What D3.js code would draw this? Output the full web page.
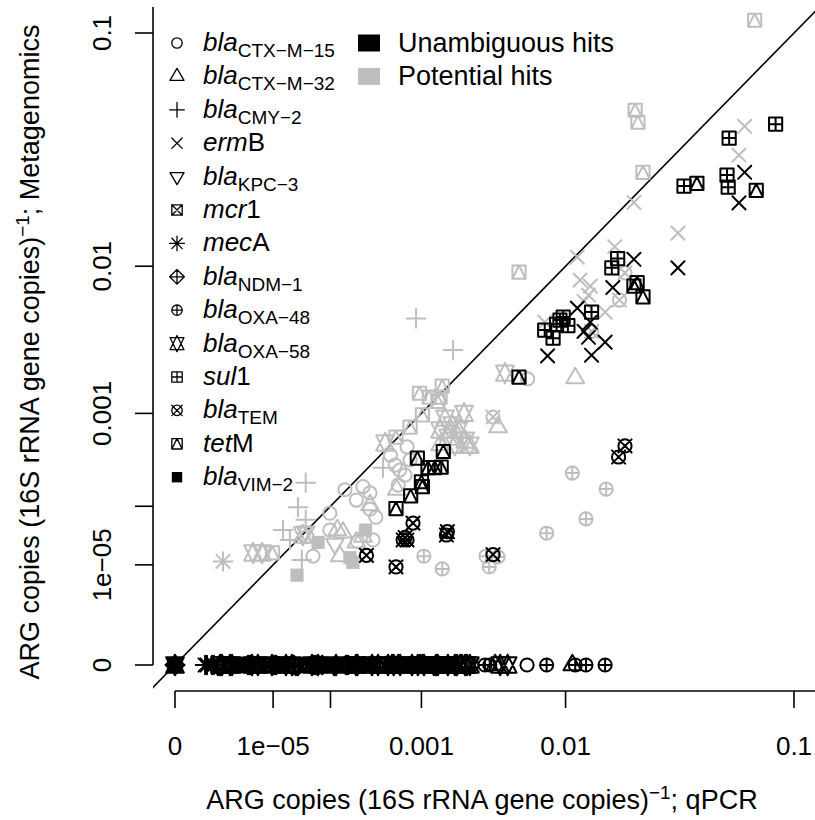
<!DOCTYPE html>
<html><head><meta charset="utf-8">
<script src="https://cdn.jsdelivr.net/npm/d3@7"></script>
<style>body{margin:0;background:#fff} svg{display:block} text{font-family:"Liberation Sans",Arial,Helvetica,sans-serif;fill:#000}</style>
</head><body>
<svg id="c" width="815" height="820"></svg>
<script>
// ---------------- DATA ----------------
const geneNames = ["blaCTX-M-15","blaCTX-M-32","blaCMY-2","ermB","blaKPC-3","mcr1","mecA","blaNDM-1","blaOXA-48","blaOXA-58","sul1","blaTEM","tetM","blaVIM-2"];
const genePch   = [1,2,3,4,6,7,8,9,10,11,12,13,14,15];
const legendItalic = ["bla","bla","bla","erm","bla","mcr","mec","bla","bla","bla","sul","bla","tet","bla"];
const legendRest   = ["CTX\u2212M\u221215","CTX\u2212M\u221232","CMY\u22122","B","KPC\u22123","1","A","NDM\u22121","OXA\u221248","OXA\u221258","1","TEM","M","VIM\u22122"];
const legendRestIsSub = [true,true,true,false,true,false,false,true,true,true,false,true,false,true];
const hitLabels = ["Unambiguous hits","Potential hits"];
const hitColors = ["#000000","#BEBEBE"];

const xTicks = [0,1e-5,1e-4,1e-3,1e-2,1e-1];
const xTickLabels = ["0","1e\u221205","","0.001","0.01","0.1"];
const yTicks = [0,1e-5,1e-4,1e-3,1e-2,1e-1];
const yTickLabels = ["0","1e\u221205","","0.001","0.01","0.1"];

// [qPCR, metagenomics] pairs
const ermB_unambiguous = [[6.6e-2,2.88e-2],[6.28e-2,2.09e-2],[3.54e-2,9.8e-3],[2.24e-2,1.09e-2],[1.77e-2,7.6e-3],[1.16e-2,5.74e-3],[1.36e-2,4.7e-3],[1.26e-2,4.1e-3],[1.33e-2,3.75e-3],[1.62e-2,3.48e-3],[1.38e-2,2.83e-3],[7.9e-3,2.8e-3]];
const sul1_unambiguous = [[8.6e-2,4.59e-2],[5.75e-2,4.03e-2],[5.64e-2,2.8e-2],[5.7e-2,2.47e-2],[3.76e-2,2.5e-2],[1.87e-2,1.1e-2],[1.75e-2,9.8e-3],[1.38e-2,5.43e-3],[9.7e-3,5.06e-3],[8.9e-3,4.55e-3],[1.03e-2,4.46e-3],[7.6e-3,4.18e-3],[8.5e-3,3.7e-3],[9.3e-3,4.84e-3]];
const tetM_unambiguous = [[4.26e-2,2.57e-2],[7.3e-2,2.39e-2],[2.32e-2,8.1e-3],[2.24e-2,7.74e-3],[2.47e-2,6.7e-3],[5.3e-3,1.96e-3],[1.53e-3,4.4e-4],[9.2e-4,3.75e-4],[1.14e-3,2.97e-4],[1.3e-3,2.97e-4],[1.47e-3,3.01e-4],[1.0e-3,2.05e-4],[1.02e-3,1.79e-4],[8.0e-4,1.37e-4],[5.8e-4,9.3e-5]];
const tem_unambiguous = [[2.03e-2,5.0e-4],[1.89e-2,3.86e-4],[8.4e-4,5.7e-5],[7.1e-4,3.35e-5],[6.8e-4,3.03e-5],[7.4e-4,3.03e-5],[1.65e-3,4.18e-5],[1.62e-3,3.68e-5],[2.83e-4,1.57e-5],[5.8e-4,9.0e-6],[3.58e-3,1.63e-5]];

const tetM_potential = [[7.2e-2,1.105e-1],[2.27e-2,5.21e-2],[2.34e-2,4.67e-2],[2.47e-2,2.88e-2],[5.3e-3,9.28e-3],[9.6e-4,1.47e-3],[1.17e-3,1.37e-3],[1.5e-3,1.67e-3],[1.44e-3,1.37e-3],[1.38e-3,1.26e-3],[1.02e-3,9.7e-4],[7.9e-4,7.56e-4],[5.8e-4,6.1e-4],[9.7e-6,1.75e-5]];
const ermB_potential = [[6.6e-2,4.5e-2],[6.28e-2,3.42e-2],[2.24e-2,2.1e-2],[3.54e-2,1.49e-2],[1.16e-2,1.12e-2],[1.81e-2,1.27e-2],[1.2e-2,8.37e-3],[1.36e-2,7.74e-3],[1.33e-2,6.87e-3],[1.26e-2,6.3e-3],[1.62e-2,5.43e-3],[7.6e-3,4.7e-3]];
const tem_potential = [[2.03e-2,9.2e-3],[1.91e-2,6.42e-3],[1.38e-2,4.1e-3],[3.58e-3,9.3e-4]];
const cmy2_potential = [[8.95e-4,4.96e-3],[1.83e-3,3.07e-3],[4.28e-4,2.97e-4],[4.2e-5,2.0e-4],[3.1e-5,9.7e-5],[4.2e-5,6.4e-5],[1.62e-5,4.43e-5],[3.6e-5,1.27e-5],[2.2e-5,3.03e-5]];
const oxa58_potential = [[4.3e-3,2.1e-3],[2.22e-3,1.0e-3],[1.58e-3,9.1e-4],[1.8e-3,7.9e-4],[2.0e-3,7.1e-4],[2.26e-3,5.7e-4],[1.67e-3,6.1e-4],[2.45e-3,5.1e-4],[1.89e-3,5.1e-4],[1.44e-3,7.1e-4],[4.5e-4,5.34e-4],[3.2e-6,1.75e-5],[5.5e-6,1.75e-5],[3.75e-5,3.68e-5]];
const ctxm15_potential = [[6.0e-3,1.9e-3],[7.4e-4,4.9e-4],[5.1e-4,4.04e-4],[5.7e-4,3.17e-4],[6.3e-4,2.79e-4],[7.1e-4,2.45e-4],[7.9e-4,3.6e-4],[6.1e-4,1.87e-4],[1.56e-4,1.64e-4],[2.58e-4,1.79e-4],[3.1e-4,1.5e-4],[2.16e-4,1.21e-4],[9.8e-5,8.0e-5],[3.1e-4,9.1e-5],[3.6e-4,7.0e-5],[4.4e-5,3.46e-5],[9.8e-5,4.43e-5],[5.5e-5,1.51e-5],[3.35e-4,3.03e-5],[2.22e-4,2.84e-5]];
const ctxm32_potential = [[1.13e-2,1.93e-3],[3.87e-3,7.56e-4],[5.9e-4,1.64e-4],[1.24e-4,4.43e-5],[1.34e-4,1.51e-5],[2.16e-4,2.75e-5],[1.47e-4,4.06e-5],[2.58e-4,3.46e-5],[2.38e-3,4.8e-4],[1.44e-3,5.1e-4],[3.1e-4,1.04e-4]];
const vim2_potential = [[2.76e-4,4.43e-5],[6.6e-5,2.75e-5],[1.8e-4,1.41e-5],[1.96e-4,1.13e-5],[2.97e-5,5.8e-6]];
const meca_potential = [[2.8e-7,1.18e-5]];
const oxa48_potential = [[1.09e-2,2.58e-4],[1.64e-2,1.67e-4],[1.29e-2,6.6e-5],[7.8e-3,3.94e-5],[1.05e-3,1.51e-5],[1.5e-3,8.1e-6],[3.2e-3,1.51e-5],[3.87e-3,1.46e-5],[3.37e-3,9.0e-6]];
const kpc3_potential = [[1.15e-4,2.59e-5],[4.2e-5,4.18e-5]];

// genes found by qPCR but not by metagenomics (metagenomics value 0)
const zeroRowGene = [2,3,5,6,7,9,10,11,12,13,
  6,6,4,9,5,9,12,5,10,3,7,12,9,10,5,3,2,10,12,9,3,7,4,10,12,5,2,9,7,10,12,4,3,5,7,10,12,9,11,11,3,11,9,0,11,11,9,1,11,10,8,11,9,1,11,8,4,9,0,8,11,9,1,9,9,
  8,8,1,9,9,0,8,1,8,8,8,
  6,6,9,5,12,9,5,10,12,7, 9,5,10,12,3,9,7,10,5,12, 9,4,10,12,5,9,7,10,12,5, 3,9,10,12,7,5,9,10,12,11, 9,11,0,11,9,1,11,9,11,8, 9,11,1,9,8,11,9,0,11,9, 8,9,1,9,11];
const zeroRowQpcr = [0,0,0,0,0,0,0,0,0,0,
  2.7e-8,7.6e-8,1.6e-7,2.5e-7,3.8e-7,5.5e-7,7.9e-7,1.09e-6,1.49e-6,1.99e-6,2.6e-6,3.4e-6,4.3e-6,5.5e-6,6.9e-6,8.5e-6,1.05e-5,1.28e-5,1.55e-5,1.85e-5,2.2e-5,2.6e-5,3.1e-5,3.6e-5,4.2e-5,4.95e-5,5.7e-5,6.6e-5,7.6e-5,8.6e-5,9.8e-5,1.12e-4,1.27e-4,1.43e-4,1.61e-4,1.8e-4,2.02e-4,2.22e-4,2.5e-4,2.76e-4,3.1e-4,3.4e-4,3.8e-4,4.2e-4,4.6e-4,5.1e-4,5.5e-4,6.1e-4,6.6e-4,7.2e-4,7.9e-4,8.6e-4,9.3e-4,1.02e-3,1.1e-3,1.19e-3,1.28e-3,1.38e-3,1.5e-3,1.62e-3,1.73e-3,1.89e-3,2.07e-3,2.26e-3,2.45e-3,
  3.15e-3,3.4e-3,3.7e-3,4.0e-3,4.48e-3,5.95e-3,7.8e-3,1.09e-2,1.13e-2,1.29e-2,1.62e-2,
  3.69e-8,9.93e-8,2.03e-7,3.11e-7,4.61e-7,6.62e-7,9.3e-7,1.277e-6,1.72e-6,2.28e-6,2.98e-6,3.84e-6,4.88e-6,6.14e-6,7.66e-6,9.45e-6,1.157e-5,1.405e-5,1.69e-5,2.03e-5,2.41e-5,2.85e-5,3.36e-5,3.93e-5,4.58e-5,5.31e-5,6.13e-5,7.05e-5,8.08e-5,9.23e-5,1.05e-4,1.19e-4,1.345e-4,1.517e-4,1.705e-4,1.91e-4,2.14e-4,2.39e-4,2.65e-4,2.95e-4,3.27e-4,3.61e-4,3.99e-4,4.39e-4,4.83e-4,5.3e-4,5.8e-4,6.36e-4,6.94e-4,7.57e-4,8.23e-4,8.95e-4,9.72e-4,1.053e-3,1.14e-3,1.234e-3,1.332e-3,1.438e-3,1.546e-3,1.665e-3,1.79e-3,1.958e-3,2.138e-3,2.33e-3,2.54e-3];

// ---------------- CHART ----------------
const svg = d3.select("#c");
const plot = {left:153, right:815, top:7, bottom:691};
const xS = d3.scalePow().exponent(0.2).domain([0,0.1]).range([175,794]);
const yS = d3.scalePow().exponent(0.2).domain([0,0.1]).range([665,33]);
const FS = 26, FT = 27;

function pchPath(p, s){
  const r = 1.5551*s, yc = 0.7776*s, xc = 1.3468*s, a = Math.SQRT2*s;
  const circ = `M${s},0A${s},${s} 0 1,1 ${-s},0A${s},${s} 0 1,1 ${s},0Z`;
  const sq = `M${-s},${-s}H${s}V${s}H${-s}Z`;
  const X = `M${-s},${-s}L${s},${s}M${-s},${s}L${s},${-s}`;
  const P = `M${-s},0H${s}M0,${-s}V${s}`;
  const P2 = `M${-a},0H${a}M0,${-a}V${a}`;
  switch(p){
    case 1: return circ;
    case 2: return `M0,${-r}L${xc},${yc}L${-xc},${yc}Z`;
    case 3: return P2;
    case 4: return X;
    case 6: return `M0,${r}L${xc},${-yc}L${-xc},${-yc}Z`;
    case 7: return sq + X;
    case 8: return X + P2;
    case 9: return `M${-a},0L0,${-a}L${a},0L0,${a}Z` + P2;
    case 10: return circ + P;
    case 11: { const y2 = 0.5*(yc+r); return `M0,${-r}L${xc},${y2}L${-xc},${y2}ZM0,${r}L${xc},${-y2}L${-xc},${-y2}Z`; }
    case 12: return sq + P;
    case 13: return circ + X;
    case 14: return sq + `M0,${-s}L${s},${s}L${-s},${s}Z`;
    case 15: return sq;
  }
}
function drawPch(g, p, cx, cy, s, color, lw){
  g.append("path").attr("d", pchPath(p, s))
    .attr("transform", `translate(${cx},${cy})`)
    .attr("fill", p===15 ? color : "none")
    .attr("stroke", p===15 ? "none" : color)
    .attr("stroke-width", lw)
    .attr("stroke-linejoin","round").attr("stroke-linecap","round");
}

svg.append("defs").append("clipPath").attr("id","pc").append("rect")
  .attr("x",plot.left).attr("y",plot.top).attr("width",plot.right-plot.left).attr("height",plot.bottom-plot.top);

// 1:1 line
svg.append("line").attr("clip-path","url(#pc)")
  .attr("x1", xS(-1e-4)).attr("y1", yS(-1e-4)).attr("x2", xS(0.2)).attr("y2", yS(0.2))
  .attr("stroke","#000").attr("stroke-width",1.6);

const series = [
  {gene:12, hit:1, pts:tetM_potential},{gene:3, hit:1, pts:ermB_potential},{gene:11, hit:1, pts:tem_potential},
  {gene:2, hit:1, pts:cmy2_potential},{gene:9, hit:1, pts:oxa58_potential},{gene:0, hit:1, pts:ctxm15_potential},
  {gene:1, hit:1, pts:ctxm32_potential},{gene:13, hit:1, pts:vim2_potential},{gene:6, hit:1, pts:meca_potential},
  {gene:8, hit:1, pts:oxa48_potential},{gene:4, hit:1, pts:kpc3_potential},
  {gene:3, hit:0, pts:ermB_unambiguous},{gene:10, hit:0, pts:sul1_unambiguous},{gene:12, hit:0, pts:tetM_unambiguous},{gene:11, hit:0, pts:tem_unambiguous}
];
const gp = svg.append("g");
const PS = 6.6, PLW = 2;
series.forEach(sr => sr.pts.forEach(d => drawPch(gp, genePch[sr.gene], xS(d[0]), yS(d[1]), PS, hitColors[sr.hit], PLW)));
zeroRowQpcr.forEach((q,i) => drawPch(gp, genePch[zeroRowGene[i]], xS(q), yS(0), PS, hitColors[0], PLW));

// axes
const ax = svg.append("g");
ax.append("line").attr("x1",xS(0)).attr("x2",plot.right).attr("y1",plot.bottom).attr("y2",plot.bottom).attr("stroke","#000").attr("stroke-width",1.6);
ax.append("line").attr("x1",plot.left).attr("x2",plot.left).attr("y1",yS(0)).attr("y2",plot.top).attr("stroke","#000").attr("stroke-width",1.6);
xTicks.forEach((t,i)=>{
  ax.append("line").attr("x1",xS(t)).attr("x2",xS(t)).attr("y1",plot.bottom).attr("y2",plot.bottom+17).attr("stroke","#000").attr("stroke-width",1.6);
  ax.append("text").attr("x",xS(t)).attr("y",755).attr("text-anchor","middle").attr("font-size",FS).text(xTickLabels[i]);
});
yTicks.forEach((t,i)=>{
  ax.append("line").attr("x1",plot.left).attr("x2",plot.left-18).attr("y1",yS(t)).attr("y2",yS(t)).attr("stroke","#000").attr("stroke-width",1.6);
  ax.append("text").attr("transform",`translate(111,${yS(t)}) rotate(-90)`).attr("text-anchor","middle").attr("font-size",FS).text(yTickLabels[i]);
});
const xt = svg.append("text").attr("x",482).attr("y",809).attr("text-anchor","middle").attr("font-size",FT);
xt.append("tspan").text("ARG copies (16S rRNA gene copies)");
xt.append("tspan").attr("font-size",FT*0.7).attr("dy",-10).text("\u22121");
xt.append("tspan").attr("dy",10).text("; qPCR");
const yt = svg.append("text").attr("transform","translate(39,352) rotate(-90)").attr("text-anchor","middle").attr("font-size",FT);
yt.append("tspan").text("ARG copies (16S rRNA gene copies)");
yt.append("tspan").attr("font-size",FT*0.7).attr("dy",-10).text("\u22121");
yt.append("tspan").attr("dy",10).text("; Metagenomics");

// legends
const lg = svg.append("g");
const rowY0 = 43, rowDY = 33.4;
geneNames.forEach((g,i)=>{
  const y = rowY0 + i*rowDY;
  drawPch(lg, genePch[i], 177, y, 5.2, "#000", 1.3);
  const t = lg.append("text").attr("x",203).attr("y",y+8).attr("font-size",FS);
  t.append("tspan").attr("font-style","italic").text(legendItalic[i]);
  if (legendRestIsSub[i]) t.append("tspan").attr("font-size",19).attr("dy",6).text(legendRest[i]);
  else t.append("tspan").text(legendRest[i]);
});
hitLabels.forEach((h,i)=>{
  const y = rowY0 + i*rowDY;
  lg.append("rect").attr("x",358).attr("y",y-8.5).attr("width",22).attr("height",17).attr("fill",hitColors[i]);
  lg.append("text").attr("x",398).attr("y",y+9).attr("font-size",FT).text(h);
});
</script></body></html>
